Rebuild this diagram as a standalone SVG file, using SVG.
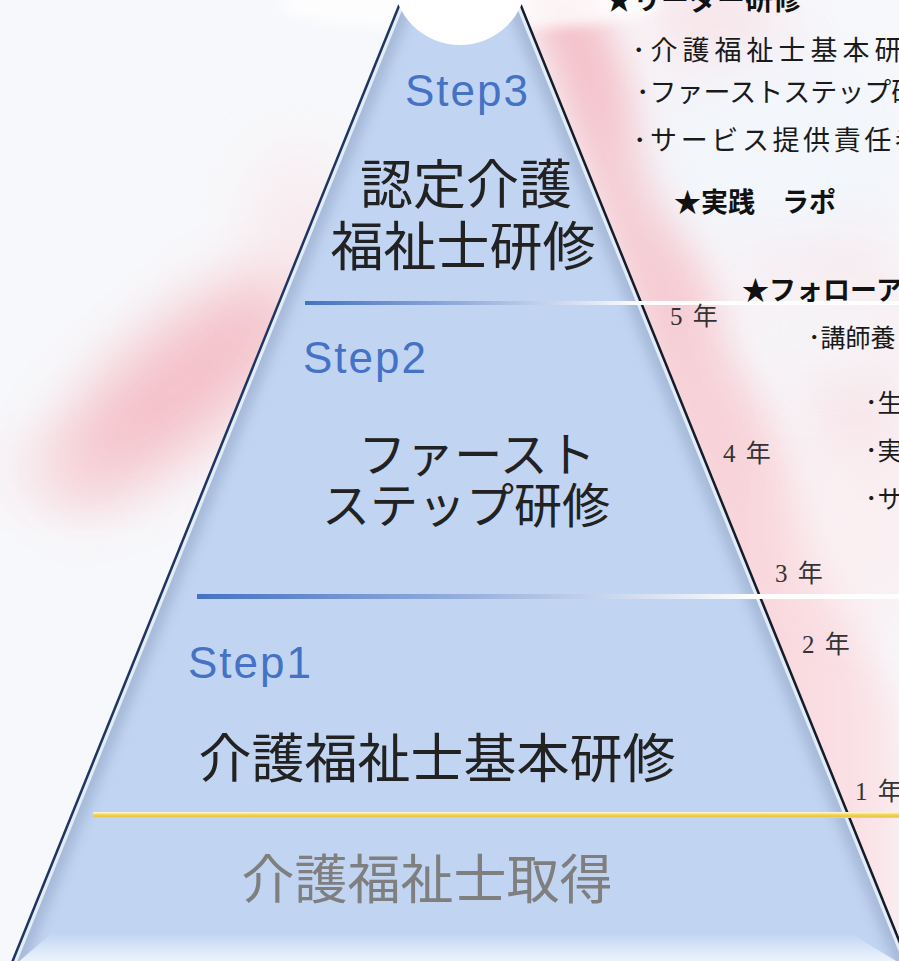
<svg xmlns="http://www.w3.org/2000/svg" width="899" height="961" viewBox="0 0 899 961">
  <defs>
    <style>
      .step { font-family: "Liberation Sans", Arial, sans-serif; font-size: 44px; fill: #4472c4; letter-spacing: 2px; }
      .big { font-family: "Noto Sans CJK JP", sans-serif; fill: #222222; text-anchor: middle; }
      .side { font-family: "Noto Sans CJK JP", sans-serif; font-size: 27px; fill: #1a1a1a; }
      .star { font-family: "Noto Sans CJK JP", sans-serif; font-size: 27px; font-weight: 700; fill: #111111; }
      .yr { font-family: "Liberation Serif", "Noto Sans CJK JP", serif; font-size: 25px; fill: #333333; letter-spacing: 2px; }
    </style>
    <filter id="blur30" x="-50%" y="-50%" width="200%" height="200%"><feGaussianBlur stdDeviation="30"/></filter>
    <filter id="blur18" x="-50%" y="-50%" width="200%" height="200%"><feGaussianBlur stdDeviation="18"/></filter>
    <filter id="blur6" x="-20%" y="-20%" width="140%" height="140%"><feGaussianBlur stdDeviation="6"/></filter>
    <clipPath id="pyrClip"><polygon points="460,-145 9,970 911,970"/></clipPath>
    <linearGradient id="lineBlue1" gradientUnits="userSpaceOnUse" x1="305" y1="0" x2="645" y2="0">
      <stop offset="0" stop-color="#4472c4"/>
      <stop offset="0.45" stop-color="#91abdb"/>
      <stop offset="1" stop-color="#ffffff"/>
    </linearGradient>
    <linearGradient id="lineBlue2" gradientUnits="userSpaceOnUse" x1="197" y1="0" x2="760" y2="0">
      <stop offset="0" stop-color="#4472c4"/>
      <stop offset="0.45" stop-color="#91abdb"/>
      <stop offset="1" stop-color="#ffffff"/>
    </linearGradient>
    <linearGradient id="lineGold" x1="0" y1="0" x2="0" y2="1">
      <stop offset="0" stop-color="#fffbea"/>
      <stop offset="0.35" stop-color="#f8dc6a"/>
      <stop offset="0.7" stop-color="#f0c234"/>
      <stop offset="1" stop-color="#d8d4c0"/>
    </linearGradient>
    <linearGradient id="bottomBevel" x1="0" y1="0" x2="0" y2="1">
      <stop offset="0" stop-color="#c1d4f2"/>
      <stop offset="0.6" stop-color="#e4eefb"/>
      <stop offset="1" stop-color="#f6faff"/>
    </linearGradient>
    <linearGradient id="pinkRight" x1="0" y1="0" x2="1" y2="0">
      <stop offset="0" stop-color="#f3bcc5"/>
      <stop offset="1" stop-color="#fbe6ea"/>
    </linearGradient>
  </defs>

  <!-- background -->
  <rect x="0" y="0" width="899" height="961" fill="#f7f8fb"/>
  <g id="background">
    <ellipse cx="180" cy="385" rx="165" ry="58" transform="rotate(-40 180 385)" fill="#f4bcc4" filter="url(#blur30)" opacity="0.9"/>
    <ellipse cx="70" cy="470" rx="70" ry="30" fill="#f8dade" filter="url(#blur30)" opacity="0.5"/>
    <ellipse cx="300" cy="230" rx="50" ry="80" fill="#f9e2e6" filter="url(#blur30)" opacity="0.6"/>
    <polygon points="590,-20 900,720 900,980 860,980 520,-20" fill="url(#pinkRight)" filter="url(#blur18)"/>
    <polygon points="640,-20 760,-20 900,300 900,650" fill="#f8dde2" filter="url(#blur30)" opacity="0.8"/>
    <ellipse cx="780" cy="150" rx="140" ry="110" fill="#f3f6fb" filter="url(#blur30)"/>
    <ellipse cx="820" cy="330" rx="90" ry="60" fill="#f6f6f9" filter="url(#blur30)" opacity="0.9"/>
    <ellipse cx="860" cy="520" rx="60" ry="90" fill="#fbf0f2" filter="url(#blur30)" opacity="0.8"/>
    <ellipse cx="470" cy="5" rx="190" ry="25" fill="#ffffff" filter="url(#blur6)" opacity="0.8"/>
  </g>

  <!-- pyramid -->
  <g id="pyramid">
    <polygon points="460,-145 9,970 911,970" fill="#c1d4f2"/>
    <g clip-path="url(#pyrClip)">
      <polyline points="9,970 460,-145 911,970" fill="none" stroke="#8fa3c2" stroke-width="26" opacity="0.55" filter="url(#blur6)"/>
      <polyline points="9,970 460,-145 911,970" fill="none" stroke="#e3ecf9" stroke-width="9"/>
      <polygon points="52,933 850,933 911,970 9,970" fill="url(#bottomBevel)"/>
    </g>
    <polyline points="9,970 460,-145" fill="none" stroke="#1f3461" stroke-width="2.5"/>
    <polyline points="460,-145 911,970" fill="none" stroke="#141c2a" stroke-width="2.5"/>
    <circle cx="460" cy="-22" r="67" fill="#ffffff"/>
  </g>

  <!-- divider lines -->
  <g id="dividers">
    <rect x="305" y="301" width="594" height="4" fill="url(#lineBlue1)"/>
    <rect x="197" y="594" width="702" height="5" fill="url(#lineBlue2)"/>
    <rect x="93" y="812" width="806" height="6" fill="url(#lineGold)"/>
  </g>

  <g id="step3">
    <text class="step" x="405" y="106">Step3</text>
    <text class="big" x="466" y="204" font-size="53">認定介護</text>
    <text class="big" x="463" y="266" font-size="53">福祉士研修</text>
  </g>

  <g id="step2">
    <text class="step" x="303" y="373">Step2</text>
    <text class="big" x="477" y="472" font-size="48">ファースト</text>
    <text class="big" x="466" y="523" font-size="48">ステップ研修</text>
  </g>

  <g id="step1">
    <text class="step" x="188" y="678">Step1</text>
    <text class="big" x="437" y="778" font-size="53">介護福祉士基本研修</text>
  </g>

  <g id="base">
    <text class="big" x="427" y="899" font-size="53" style="fill:#7f7f7f">介護福祉士取得</text>
  </g>

  <g id="years">
    <text class="yr" x="670" y="325">5 年</text>
    <text class="yr" x="723" y="462">4 年</text>
    <text class="yr" x="775" y="582">3 年</text>
    <text class="yr" x="802" y="653">2 年</text>
    <text class="yr" x="855" y="800">1 年</text>
  </g>

  <g id="leader">
    <text class="star" x="605" y="10" style="font-size:28px">★リーダー研修</text>
    <text class="side" x="632" y="60" style="letter-spacing:5px">･介護福祉士基本研</text>
    <text class="side" x="636" y="102">･ファーストステップ研</text>
    <text class="side" x="633" y="150" style="letter-spacing:3.6px">･サービス提供責任者</text>
  </g>

  <g id="practice">
    <text class="star" x="674" y="212">★実践　ラポ</text>
  </g>

  <g id="followup">
    <text class="star" x="742" y="300">★フォローア</text>
    <text class="side" x="808" y="347" style="font-size:25px">･講師養</text>
    <text class="side" x="865" y="412" style="font-size:25px">･生</text>
    <text class="side" x="865" y="460" style="font-size:25px">･実</text>
    <text class="side" x="865" y="508" style="font-size:25px">･サ</text>
  </g>
</svg>
